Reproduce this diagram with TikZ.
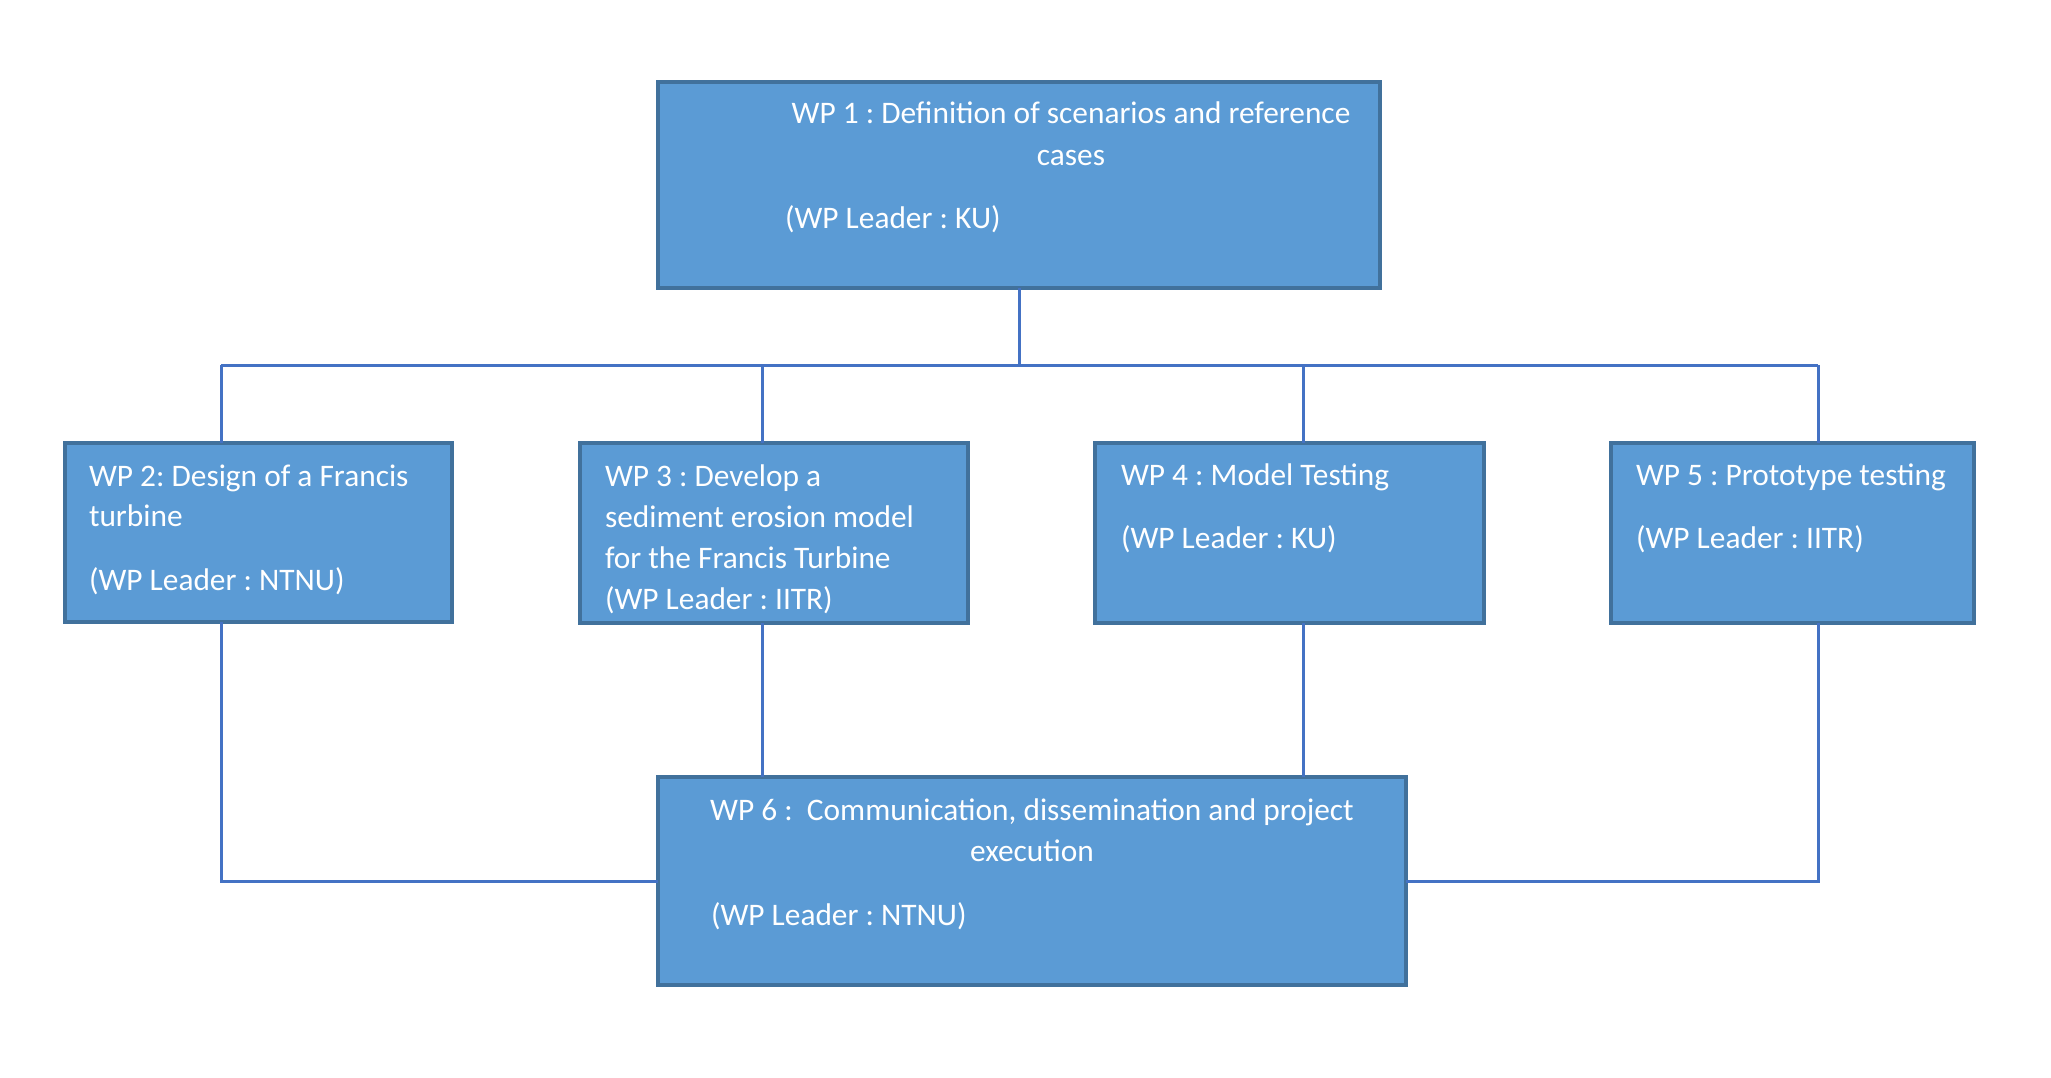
\documentclass[tikz,border=0pt]{standalone}
\usepackage{fontspec}
\setmainfont{Carlito}
\frenchspacing
\definecolor{boxfill}{HTML}{5B9BD5}
\definecolor{boxedge}{HTML}{41719C}
\definecolor{linkcol}{HTML}{4472C4}
\begin{document}
\begin{tikzpicture}[x=0.5pt,y=-0.5pt,
  wpbox/.style={draw=boxedge,fill=boxfill,line width=1.6pt,rectangle,inner sep=0pt,outer sep=0pt},
  txt/.style={text=white,inner sep=0pt,outer sep=0pt,font=\frenchspacing\fontsize{15.68}{20.25}\selectfont},
  txl/.style={txt,anchor=base west},
  txc/.style={txt,anchor=base},
  link/.style={draw=linkcol,line width=1.5pt}]
\useasboundingbox (0,0) rectangle (2051,1077);
% boxes
\node[wpbox,minimum width=361pt,minimum height=103pt] (wp1) at (1019,185) {};
\node[wpbox,minimum width=193.5pt,minimum height=89.5pt] (wp2) at (258.5,532.5) {};
\node[wpbox,minimum width=194pt,minimum height=90pt] (wp3) at (774,533) {};
\node[wpbox,minimum width=194.5pt,minimum height=90pt] (wp4) at (1289.5,533) {};
\node[wpbox,minimum width=181.5pt,minimum height=90pt] (wp5) at (1792.5,533) {};
\node[wpbox,minimum width=374pt,minimum height=104pt] (wp6) at (1032,881) {};
% column coordinates
\coordinate (c2) at (221,365);
\coordinate (c3) at (762,365);
\coordinate (c4) at (1303,365);
\coordinate (c5) at (1818,365);
% connectors
\draw[link] (wp1.south) -- (wp1.south |- c2);
\draw[link] (c2) -- (c5);
\draw[link] (c2) -- (c2 |- wp2.north);
\draw[link] (c3) -- (c3 |- wp3.north);
\draw[link] (c4) -- (c4 |- wp4.north);
\draw[link] (c5) -- (c5 |- wp5.north);
\draw[link] (c2 |- wp2.south) -- (c2 |- wp6.west) -- (wp6.west);
\draw[link] (c3 |- wp3.south) -- (c3 |- wp6.north);
\draw[link] (c4 |- wp4.south) -- (c4 |- wp6.north);
\draw[link] (c5 |- wp5.south) -- (c5 |- wp6.east) -- (wp6.east);
% texts
\node[txc] (t1a) at (1071,123) {WP 1 : Definition of scenarios and reference};
\node[txc] (t1b) at (1071,165) {cases};
\node[txl] (t1c) at (785,228) {(WP Leader : KU)};
\node[txl] (t2a) at (89,486) {WP 2: Design of a Francis};
\node[txl] (t2b) at (89,526) {turbine};
\node[txl] (t2c) at (89,590) {(WP Leader : NTNU)};
\node[txl] (t3a) at (605,486) {WP 3 : Develop a};
\node[txl] (t3b) at (605,527) {sediment erosion model};
\node[txl] (t3c) at (605,568) {for the Francis Turbine};
\node[txl] (t3d) at (605,609) {(WP Leader : IITR)};
\node[txl] (t4a) at (1121,485) {WP 4 : Model Testing};
\node[txl] (t4b) at (1121,548) {(WP Leader : KU)};
\node[txl] (t5a) at (1636,485) {WP 5 : Prototype testing};
\node[txl] (t5b) at (1636,548) {(WP Leader : IITR)};
\node[txc] (t6a) at (1032,820) {WP 6 :~ Communication, dissemination and project};
\node[txc] (t6b) at (1032,861) {execution};
\node[txl] (t6c) at (711,925) {(WP Leader : NTNU)};
\end{tikzpicture}
\end{document}
